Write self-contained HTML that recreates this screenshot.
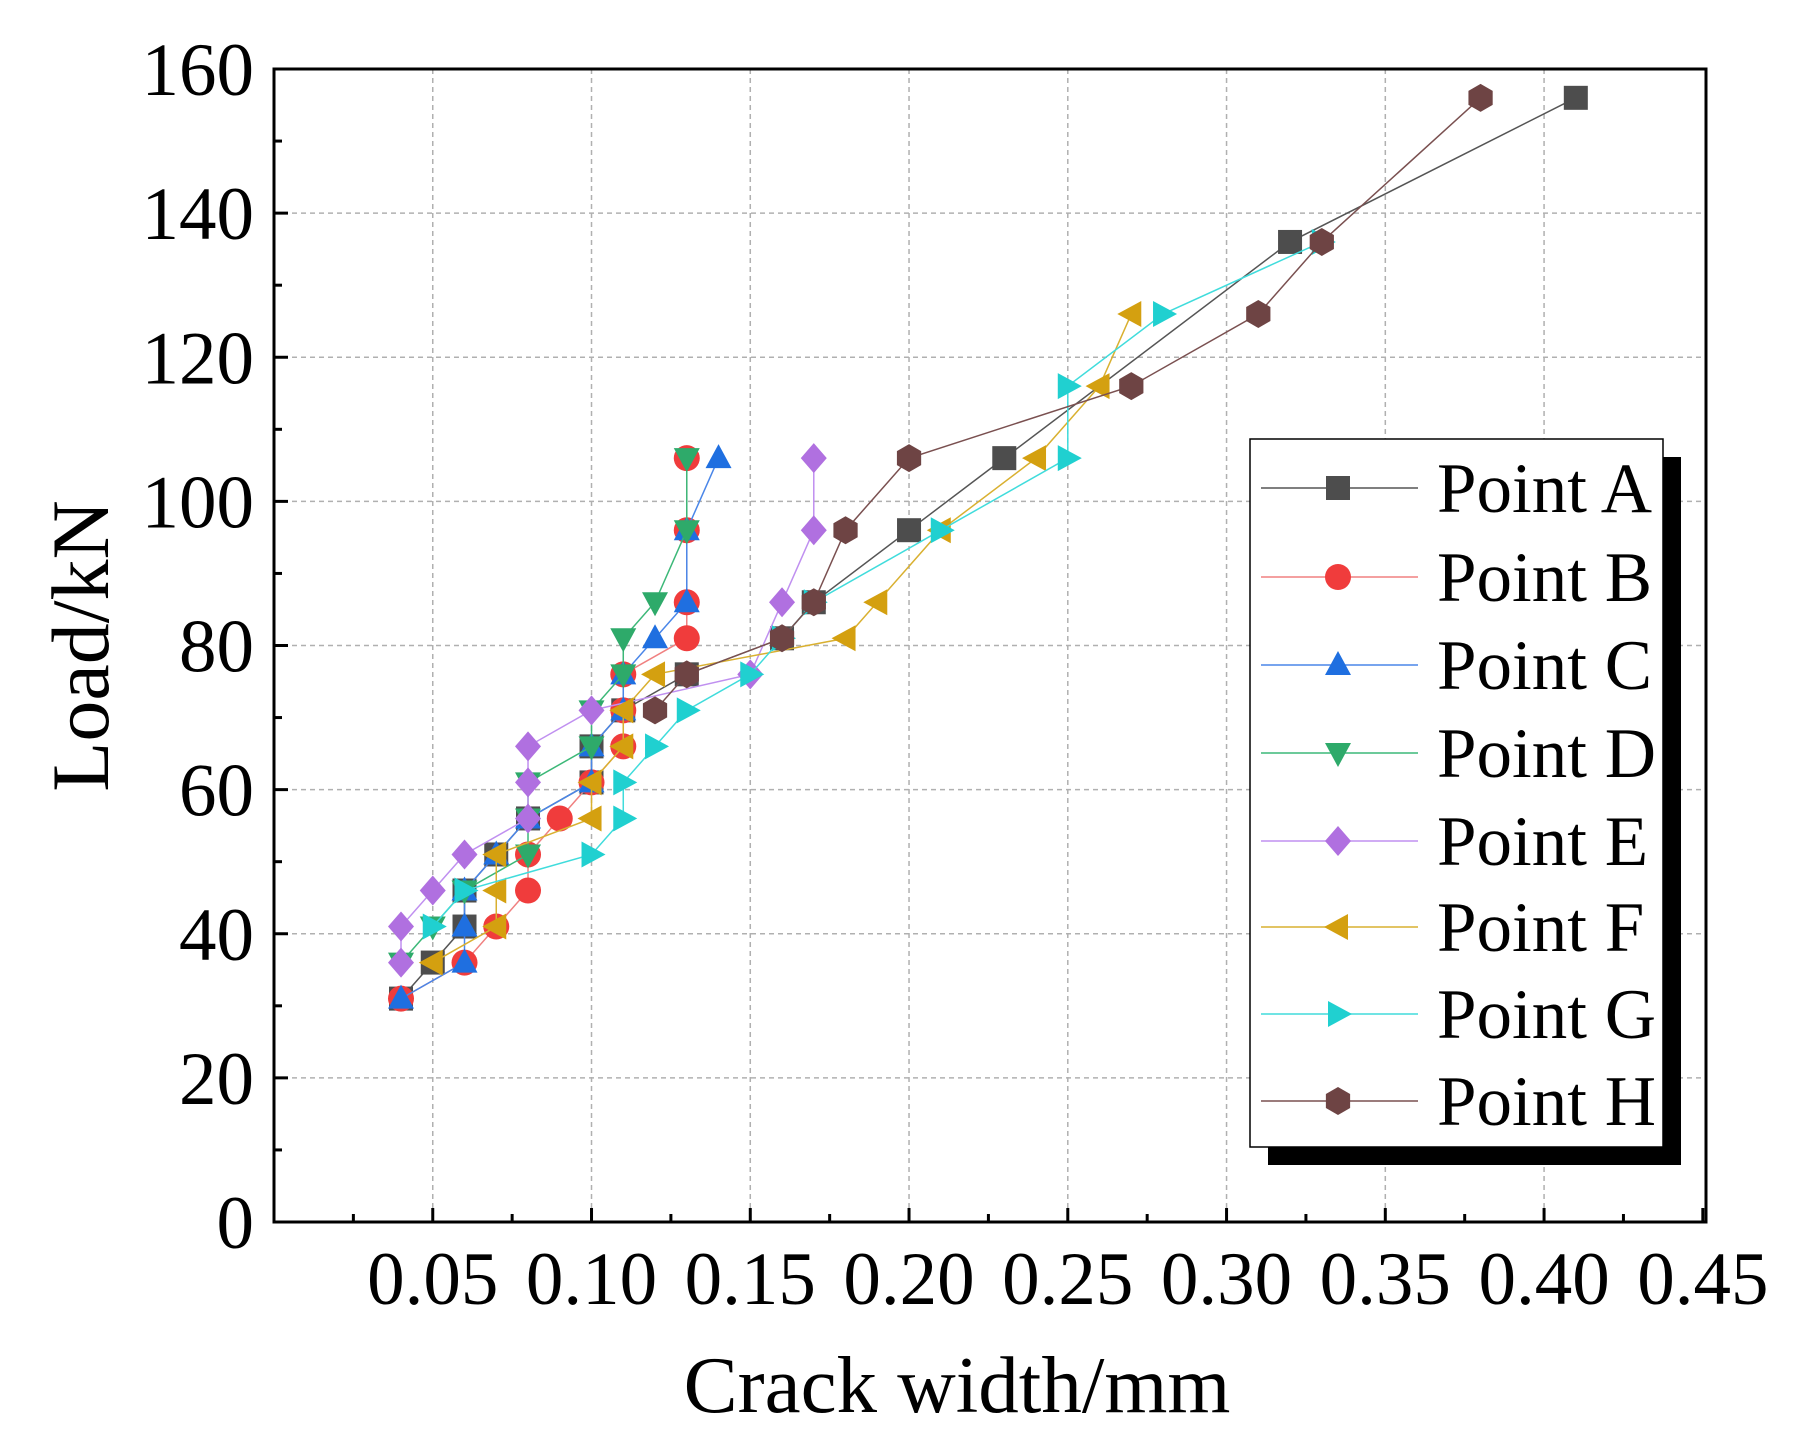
<!DOCTYPE html>
<html><head><meta charset="utf-8"><style>
html,body{margin:0;padding:0;background:#fff}
svg{display:block}
text{font-family:"Liberation Serif",serif;fill:#000}
</style></head><body>
<svg id="chart" width="1798" height="1455" viewBox="0 0 1798 1455" xmlns="http://www.w3.org/2000/svg">
<g id="grid"></g>
<g id="series"></g>
<rect x="274" y="69" width="1432" height="1153" fill="none" stroke="#000" stroke-width="3"/>
<g id="axes"></g>
<text x="957" y="1412" font-size="81" text-anchor="middle">Crack width/mm</text>
<text transform="translate(108,646) rotate(-90)" font-size="82" text-anchor="middle">Load/kN</text>
<g id="legend">
<rect x="1268" y="457" width="413" height="708" fill="#000"/>
<rect x="1250" y="439" width="413" height="708" fill="#fff" stroke="#000" stroke-width="1.5"/>
</g>
</svg>
<script>
const seriesNames=["Point A","Point B","Point C","Point D","Point E","Point F","Point G","Point H"];
const colors=["#4d4d4d","#f03c3c","#1f6fe0","#2eaa6a","#b070e0","#d4a010","#20d0d0","#6e4444"];
const lineColors=["#555","#f08080","#4a86e8","#3cb878","#c090f0","#d9b030","#40dcdc","#7a5050"];
const markers=["square","circle","up","down","diamond","left","right","hex"];
const xTicks=[0.05,0.10,0.15,0.20,0.25,0.30,0.35,0.40,0.45];
const xTickLabels=["0.05","0.10","0.15","0.20","0.25","0.30","0.35","0.40","0.45"];
const yTicks=[0,20,40,60,80,100,120,140,160];
const yTickLabels=["0","20","40","60","80","100","120","140","160"];
const xA=[0.04,0.05,0.06,0.06,0.07,0.08,0.10,0.10,0.11,0.13,0.16,0.17,0.20,0.23,0.32,0.41];
const yA=[31,36,41,46,51,56,61,66,71,76,81,86,96,106,136,156];
const xB=[0.04,0.06,0.07,0.08,0.08,0.09,0.10,0.11,0.11,0.11,0.13,0.13,0.13,0.13];
const yB=[31,36,41,46,51,56,61,66,71,76,81,86,96,106];
const xC=[0.04,0.06,0.06,0.06,0.07,0.08,0.10,0.10,0.11,0.11,0.12,0.13,0.13,0.14];
const yC=[31,36,41,46,51,56,61,66,71,76,81,86,96,106];
const xD=[0.04,0.05,0.06,0.08,0.08,0.08,0.10,0.10,0.11,0.11,0.12,0.13,0.13];
const yD=[36,41,46,51,56,61,66,71,76,81,86,96,106];
const xE=[0.04,0.04,0.05,0.06,0.08,0.08,0.08,0.10,0.15,0.16,0.17,0.17];
const yE=[36,41,46,51,56,61,66,71,76,86,96,106];
const xF=[0.05,0.07,0.07,0.07,0.10,0.10,0.11,0.11,0.12,0.18,0.19,0.21,0.24,0.26,0.27];
const yF=[36,41,46,51,56,61,66,71,76,81,86,96,106,116,126];
const xG=[0.05,0.06,0.10,0.11,0.11,0.12,0.13,0.15,0.16,0.17,0.21,0.25,0.25,0.28,0.33];
const yG=[41,46,51,56,61,66,71,76,81,86,96,106,116,126,136];
const xH=[0.12,0.13,0.16,0.17,0.18,0.20,0.27,0.31,0.33,0.38];
const yH=[71,76,81,86,96,106,116,126,136,156];
const allX=[xA,xB,xC,xD,xE,xF,xG,xH];
const allY=[yA,yB,yC,yD,yE,yF,yG,yH];

const NS="http://www.w3.org/2000/svg";
const L=274,R=1706,T=69,B=1222;
function sx(v){return L+v/0.451*(R-L);}
function sy(v){return B-v/160*(B-T);}
function mk(tag,attrs,parent){const e=document.createElementNS(NS,tag);for(const k in attrs)e.setAttribute(k,attrs[k]);parent.appendChild(e);return e;}
const grid=document.getElementById('grid'),axes=document.getElementById('axes'),ser=document.getElementById('series'),leg=document.getElementById('legend');

xTicks.forEach((t,i)=>{
  const x=sx(t);
  if(t<0.449){const g=mk('line',{x1:x,x2:x,y1:T,y2:B,stroke:'#b0b0b0','stroke-width':1.5,'stroke-dasharray':'5,4'},grid);
  
  }
  const tk=mk('line',{x1:x,x2:x,y1:B,y2:B-14,stroke:'#000','stroke-width':3},axes);
  
  
  const m=mk('line',{x1:sx(t-0.025),x2:sx(t-0.025),y1:B,y2:B-8,stroke:'#000','stroke-width':3},axes);
  
  
  const lb=mk('text',{x:x,y:1304,'font-size':75,'text-anchor':'middle'},axes);
  lb.textContent=xTickLabels[i];
  
  
});
yTicks.forEach((t,i)=>{
  const y=sy(t);
  if(t>0&&t<160){const g=mk('line',{x1:L,x2:R,y1:y,y2:y,stroke:'#b0b0b0','stroke-width':1.5,'stroke-dasharray':'5,4'},grid);
  
  }
  const tk=mk('line',{x1:L,x2:L+14,y1:y,y2:y,stroke:'#000','stroke-width':3},axes);
  
  
  if(t<160){const m=mk('line',{x1:L,x2:L+8,y1:sy(t+10),y2:sy(t+10),stroke:'#000','stroke-width':3},axes);
  
  }
  const lb=mk('text',{x:254,y:y+26,'font-size':75,'text-anchor':'end'},axes);
  lb.textContent=yTickLabels[i];
  
  
});

function marker(type,x,y,c,parent){
  const s=12;let e;
  if(type==='square')e=mk('rect',{x:x-s,y:y-s,width:2*s,height:2*s,fill:c},parent);
  else if(type==='circle')e=mk('circle',{cx:x,cy:y,r:s+1,fill:c},parent);
  else{
    let p;
    if(type==='up')p=[[0,-14],[13,10],[-13,10]];
    else if(type==='down')p=[[0,14],[13,-10],[-13,-10]];
    else if(type==='left')p=[[-14,0],[10,-13],[10,13]];
    else if(type==='right')p=[[14,0],[-10,-13],[-10,13]];
    else if(type==='diamond')p=[[0,-15],[13,0],[0,15],[-13,0]];
    else{p=[];for(let k=0;k<6;k++){const a=Math.PI/6+k*Math.PI/3;p.push([14*Math.cos(a),14*Math.sin(a)]);}}
    e=mk('polygon',{points:p.map(q=>(x+q[0])+','+(y+q[1])).join(' '),fill:c},parent);
  }
  return e;
}

allX.forEach((xs,i)=>{
  const g=mk('g',{},ser);
  
  
  const pts=xs.map((v,j)=>sx(v)+','+sy(allY[i][j])).join(' ');
  const pl=mk('polyline',{points:pts,fill:'none',stroke:lineColors[i],'stroke-width':1.5},g);
  
  
  xs.forEach((v,j)=>{
    const m=marker(markers[i],sx(v),sy(allY[i][j]),colors[i],g);
    
    
  });
});

const legY=[488,577,665,753,841,927,1014,1101];
seriesNames.forEach((n,i)=>{
  const g=mk('g',{},leg);
  
  
  mk('line',{x1:1261,x2:1418,y1:legY[i],y2:legY[i],stroke:lineColors[i],'stroke-width':1.5},g);
  marker(markers[i],1338,legY[i],colors[i],g);
  const t=mk('text',{x:1437,y:legY[i]+24,'font-size':71},g);
  t.textContent=n;
});
</script>
</body></html>
